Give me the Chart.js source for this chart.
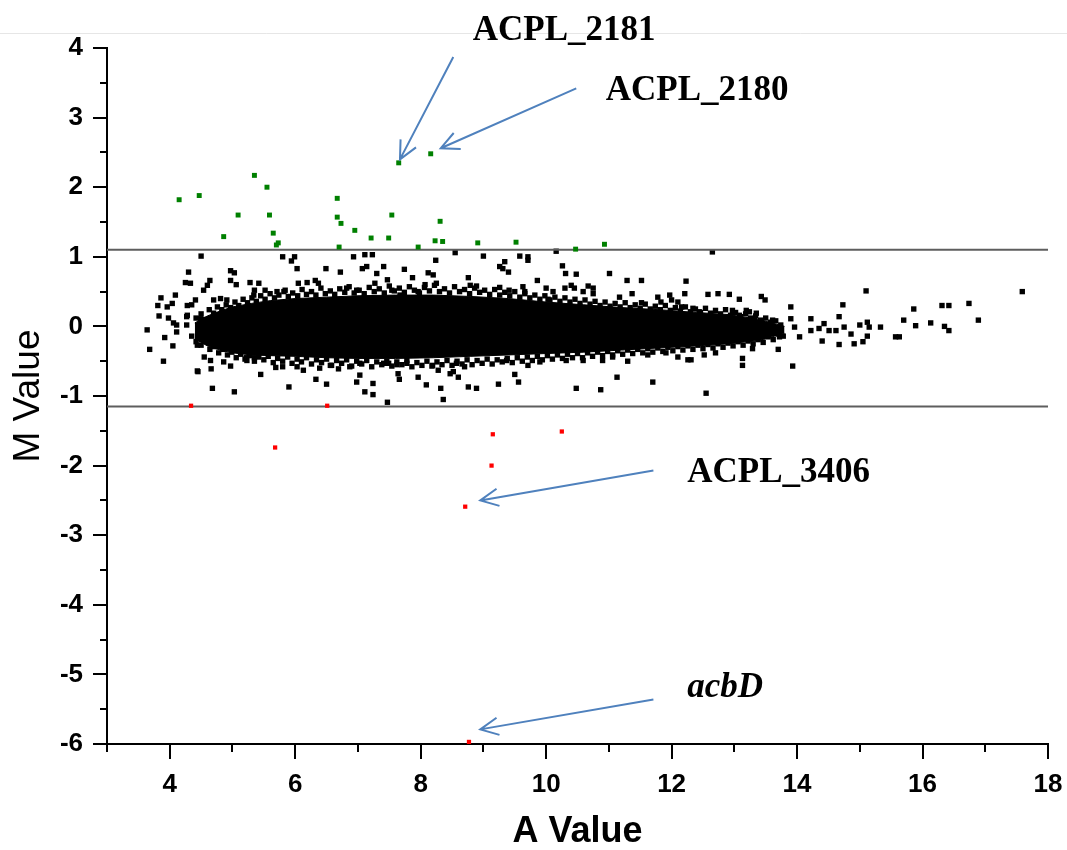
<!DOCTYPE html>
<html>
<head>
<meta charset="utf-8">
<script src="https://cdn.jsdelivr.net/npm/chart.js"></script>
<style>
  body { margin: 0; background: #fff; }
  #wrap { width: 1067px; height: 850px; }
</style>
</head>
<body>
<div id="wrap"><canvas id="maPlot" width="1067" height="850"></canvas></div>
<script>
// axis ranges / cut-offs
const aRange = [3, 18]
const mRange = [-6, 4]
const cutUp = 1.1
const cutDown = -1.15

// up-regulated genes (green) [A, M]
const upGenes = [
  [4.15, 1.82], [4.47, 1.88], [5.35, 2.17], [5.55, 2.00], [5.09, 1.60], [5.59, 1.60],
  [4.86, 1.29], [5.65, 1.34], [5.70, 1.17], [5.73, 1.20], [6.67, 1.84], [6.67, 1.57],
  [6.73, 1.48], [6.95, 1.38], [6.70, 1.14], [7.21, 1.27], [7.49, 1.27], [7.54, 1.60],
  [7.96, 1.14], [7.65, 2.35], [8.16, 2.48], [8.31, 1.51], [8.23, 1.23], [8.35, 1.22],
  [8.91, 1.20], [9.52, 1.21], [10.47, 1.11], [10.93, 1.18]
]

// down-regulated genes (red)
const downGenes = [
  [4.34, -1.14], [6.51, -1.14], [5.68, -1.74], [9.15, -1.55], [10.25, -1.51],
  [9.13, -2.00], [8.71, -2.59], [8.77, -5.97]
]

// dense core of the cloud: envelope
const coreA = [4.40, 4.6, 4.8, 5.0, 5.3, 5.6, 6.0, 6.5, 7.0, 7.6, 8.2, 8.8, 9.4, 10.0, 10.6, 11.2, 11.8, 12.4, 12.9, 13.4, 13.8]
const coreUp = [0.05, 0.15, 0.22, 0.28, 0.33, 0.37, 0.40, 0.42, 0.44, 0.45, 0.45, 0.43, 0.40, 0.35, 0.31, 0.27, 0.24, 0.20, 0.17, 0.10, 0.00]
const coreLow = [-0.18, -0.28, -0.34, -0.38, -0.41, -0.42, -0.43, -0.45, -0.46, -0.46, -0.45, -0.43, -0.41, -0.39, -0.37, -0.34, -0.31, -0.28, -0.25, -0.20, -0.10]

// unchanged genes outside the solid core (black)
const otherGenes = [
  // above the core
  [4.50, 1.01], [5.80, 1.00], [5.99, 1.00], [5.94, 0.94], [6.03, 0.83], [6.93, 1.00], [7.11, 1.03], [7.23, 1.03],
  [7.14, 0.86], [6.49, 0.83], [6.72, 0.78], [7.41, 0.86], [7.30, 0.76], [7.07, 0.83], [7.74, 0.82], [8.24, 0.95],
  [8.55, 1.06], [8.12, 0.77], [8.20, 0.74], [8.25, 0.62], [7.87, 0.70], [7.47, 0.67], [7.27, 0.62],
  [4.30, 0.78], [4.25, 0.63], [4.33, 0.62], [4.64, 0.66], [4.60, 0.59], [4.54, 0.52], [4.97, 0.80], [5.03, 0.77],
  [4.97, 0.66], [5.06, 0.60], [5.28, 0.63], [5.42, 0.62], [5.52, 0.52], [5.35, 0.52], [5.34, 0.45], [6.05, 0.62],
  [6.19, 0.63], [6.32, 0.66], [6.37, 0.62], [5.71, 0.50], [5.84, 0.52], [6.82, 0.55], [6.98, 0.52], [7.54, 0.52],
  [7.67, 0.45], [7.96, 0.50], [8.07, 0.60],
  // left end
  [3.86, 0.41], [4.09, 0.45], [4.04, 0.33], [3.96, 0.28], [3.81, 0.30], [3.83, 0.15], [3.98, 0.12], [3.64, -0.05],
  [4.11, 0.02], [4.11, -0.08], [3.92, -0.16], [4.05, -0.28], [3.68, -0.33], [3.90, -0.50], [4.27, 0.02], [4.27, 0.14],
  [4.41, 0.38], [4.35, 0.31], [4.70, 0.38], [4.81, 0.40], [4.91, 0.38], [4.49, 0.11], [4.46, -0.01], [4.35, -0.14],
  [4.44, -0.27], [4.28, 0.16], [4.28, 0.30], [4.06, 0.05],
  // below the core
  [4.45, -0.65], [4.66, -0.61], [4.68, -0.89], [5.03, -0.94], [4.55, -0.44], [4.65, -0.49], [4.86, -0.51], [4.97, -0.57],
  [5.22, -0.45], [5.35, -0.45], [5.45, -0.69], [5.69, -0.59], [5.80, -0.58], [5.90, -0.87], [6.03, -0.58], [6.13, -0.63],
  [6.33, -0.76], [6.50, -0.83], [6.39, -0.60], [6.56, -0.56], [6.69, -0.61], [6.87, -0.58], [7.03, -0.53], [6.98, -0.80],
  [7.03, -0.70], [7.11, -0.94], [7.24, -0.98], [7.24, -0.82], [7.47, -1.09], [7.64, -0.68], [7.66, -0.76], [7.96, -0.73],
  [8.09, -0.84], [8.19, -0.56], [8.28, -0.63], [8.32, -0.89], [8.36, -1.05], [8.52, -0.65], [8.60, -0.73], [7.41, -0.53],
  [7.49, -0.53], [7.62, -0.55], [7.78, -0.53], [4.44, -0.64], [5.23, -0.49],
  // middle / right, above
  [9.00, 1.01], [9.58, 1.01], [9.71, 1.00], [9.71, 0.95], [10.16, 1.08], [12.65, 1.07], [9.34, 0.93], [9.26, 0.86],
  [9.31, 0.83], [9.40, 0.78], [10.26, 0.87], [10.31, 0.76], [10.48, 0.75], [11.01, 0.76], [11.29, 0.66], [11.52, 0.66],
  [12.23, 0.65], [9.86, 0.66], [8.76, 0.70], [8.79, 0.59], [8.89, 0.58], [9.26, 0.56], [9.41, 0.52], [9.63, 0.57],
  [9.66, 0.50], [10.00, 0.55], [10.11, 0.50], [10.03, 0.39], [10.30, 0.55], [10.40, 0.59], [10.45, 0.55], [10.59, 0.50],
  [10.67, 0.58], [10.75, 0.55], [10.75, 0.47], [11.17, 0.42], [11.37, 0.47], [11.52, 0.34], [11.78, 0.42], [11.83, 0.35],
  [11.97, 0.45], [12.00, 0.38], [12.10, 0.35], [12.21, 0.47], [12.16, 0.28], [12.58, 0.46], [12.74, 0.47], [12.92, 0.46],
  [13.08, 0.39], [13.43, 0.43], [13.49, 0.38], [12.34, 0.26], [12.44, 0.21], [12.55, 0.14], [12.97, 0.23], [13.08, 0.16],
  [13.24, 0.21], [13.32, 0.11],
  // middle / right, below
  [8.47, -0.68], [8.76, -0.87], [8.89, -0.89], [8.70, -0.58], [8.57, -0.53], [9.24, -0.83], [9.50, -0.69], [9.56, -0.80],
  [9.37, -0.49], [9.71, -0.56], [9.90, -0.51], [10.48, -0.89], [10.87, -0.91], [11.13, -0.73], [11.30, -0.50], [11.70, -0.80],
  [11.62, -0.41], [11.91, -0.38], [12.10, -0.44], [12.26, -0.48], [12.31, -0.48], [12.52, -0.41], [12.70, -0.38], [12.55, -0.96],
  [13.13, -0.46], [13.13, -0.56], [13.29, -0.32], [10.32, -0.49], [10.59, -0.49], [10.90, -0.49], [11.06, -0.44],
  // tail
  [13.19, 0.23], [13.24, 0.09], [13.35, 0.19], [13.40, 0.04], [13.32, -0.06], [13.19, -0.15], [13.45, -0.15], [13.56, -0.06],
  [13.66, -0.10], [13.72, -0.15], [13.58, 0.04], [13.93, -0.57], [13.70, -0.33], [13.90, 0.28], [13.90, 0.11], [13.96, -0.01],
  [14.04, -0.15], [13.74, -0.03], [13.61, 0.09], [14.67, 0.14], [14.75, -0.01], [14.62, -0.06], [14.51, -0.06], [14.43, 0.04],
  [14.35, -0.03], [14.22, 0.11], [14.22, -0.06], [14.40, -0.21], [14.67, -0.26], [14.86, -0.11], [14.91, -0.25], [15.05, -0.22],
  [15.12, -0.14], [15.15, -0.01], [15.12, 0.06], [15.00, 0.02], [15.63, -0.15], [15.57, -0.15], [15.33, -0.01], [16.89, 0.09],
  [16.42, -0.06], [16.35, 0.00], [16.13, 0.05], [15.89, 0.01], [15.70, 0.09], [16.74, 0.33], [16.42, 0.30], [16.31, 0.30],
  [15.86, 0.25], [14.73, 0.31], [17.59, 0.50], [15.10, 0.51]
]

// points crowding the upper and lower rim of the core
const rimGenes = [
  [4.42, 0.12], [4.50, 0.18], [4.57, 0.10], [4.63, 0.24], [4.70, 0.19], [4.76, 0.28], [4.83, 0.24], [4.90, 0.31],
  [4.97, 0.27], [5.04, 0.35], [5.10, 0.30], [5.17, 0.39], [5.24, 0.34], [5.31, 0.41], [5.38, 0.36], [5.45, 0.44],
  [5.52, 0.39], [5.60, 0.47], [5.67, 0.41], [5.74, 0.45], [5.82, 0.50], [5.89, 0.43], [5.96, 0.48], [6.04, 0.44],
  [6.11, 0.53], [6.18, 0.46], [6.26, 0.50], [6.33, 0.45], [6.41, 0.55], [6.48, 0.47], [6.56, 0.51], [6.63, 0.46],
  [6.71, 0.54], [6.79, 0.49], [6.86, 0.57], [6.94, 0.48], [7.02, 0.52], [7.10, 0.47], [7.18, 0.56], [7.26, 0.50],
  [7.34, 0.54], [7.42, 0.48], [7.50, 0.58], [7.58, 0.51], [7.66, 0.55], [7.74, 0.49], [7.82, 0.57], [7.90, 0.52],
  [7.98, 0.48], [8.06, 0.56], [8.14, 0.51], [8.22, 0.59], [8.30, 0.50], [8.38, 0.54], [8.46, 0.48], [8.54, 0.57],
  [8.62, 0.50], [8.70, 0.53], [8.78, 0.47], [8.86, 0.55], [8.94, 0.49], [9.02, 0.52], [9.10, 0.46], [9.18, 0.53],
  [9.26, 0.45], [9.34, 0.49], [9.42, 0.44], [9.50, 0.50], [9.58, 0.42], [9.66, 0.47], [9.74, 0.41], [9.82, 0.45],
  [9.90, 0.39], [9.98, 0.44], [10.06, 0.38], [10.14, 0.42], [10.22, 0.36], [10.30, 0.41], [10.38, 0.35], [10.46, 0.39],
  [10.54, 0.33], [10.62, 0.38], [10.70, 0.32], [10.78, 0.36], [10.86, 0.30], [10.94, 0.35], [11.02, 0.29], [11.10, 0.33],
  [11.18, 0.28], [11.26, 0.34], [11.34, 0.27], [11.42, 0.31], [11.50, 0.26], [11.58, 0.32], [11.66, 0.25], [11.74, 0.29],
  [11.82, 0.24], [11.90, 0.30], [11.98, 0.23], [12.06, 0.27], [12.14, 0.22], [12.22, 0.28], [12.30, 0.21], [12.38, 0.25],
  [12.46, 0.20], [12.54, 0.26], [12.62, 0.19], [12.70, 0.23], [12.78, 0.18], [12.86, 0.24], [12.94, 0.16], [13.02, 0.20],
  [13.10, 0.14], [13.18, 0.18], [13.26, 0.12], [13.34, 0.15], [13.42, 0.09], [13.50, 0.12], [13.58, 0.06], [13.66, 0.08],
  [13.74, 0.02],
  [4.42, -0.22], [4.50, -0.27], [4.57, -0.21], [4.64, -0.33], [4.71, -0.29], [4.78, -0.38], [4.85, -0.33], [4.92, -0.41],
  [4.99, -0.37], [5.06, -0.45], [5.13, -0.40], [5.20, -0.47], [5.27, -0.42], [5.35, -0.50], [5.42, -0.44], [5.50, -0.48],
  [5.57, -0.43], [5.65, -0.52], [5.72, -0.46], [5.80, -0.50], [5.88, -0.44], [5.95, -0.53], [6.03, -0.47], [6.10, -0.51],
  [6.18, -0.45], [6.26, -0.54], [6.34, -0.48], [6.42, -0.52], [6.50, -0.47], [6.58, -0.56], [6.66, -0.49], [6.74, -0.53],
  [6.82, -0.48], [6.90, -0.57], [6.98, -0.50], [7.06, -0.54], [7.14, -0.49], [7.22, -0.58], [7.30, -0.51], [7.38, -0.55],
  [7.46, -0.50], [7.54, -0.57], [7.62, -0.51], [7.70, -0.55], [7.78, -0.49], [7.86, -0.58], [7.94, -0.52], [8.02, -0.56],
  [8.10, -0.50], [8.18, -0.57], [8.26, -0.51], [8.34, -0.55], [8.42, -0.49], [8.50, -0.56], [8.58, -0.50], [8.66, -0.54],
  [8.74, -0.48], [8.82, -0.55], [8.90, -0.49], [8.98, -0.53], [9.06, -0.47], [9.14, -0.54], [9.22, -0.48], [9.30, -0.51],
  [9.38, -0.46], [9.46, -0.52], [9.54, -0.45], [9.62, -0.50], [9.70, -0.44], [9.78, -0.49], [9.86, -0.43], [9.94, -0.48],
  [10.02, -0.42], [10.10, -0.47], [10.18, -0.41], [10.26, -0.46], [10.34, -0.40], [10.42, -0.45], [10.50, -0.39], [10.58, -0.45],
  [10.66, -0.38], [10.74, -0.43], [10.82, -0.37], [10.90, -0.42], [10.98, -0.36], [11.06, -0.41], [11.14, -0.35], [11.22, -0.40],
  [11.30, -0.34], [11.38, -0.39], [11.46, -0.33], [11.54, -0.38], [11.62, -0.32], [11.70, -0.37], [11.78, -0.31], [11.86, -0.36],
  [11.94, -0.30], [12.02, -0.35], [12.10, -0.29], [12.18, -0.34], [12.26, -0.28], [12.34, -0.33], [12.42, -0.27], [12.50, -0.32],
  [12.58, -0.26], [12.66, -0.31], [12.74, -0.25], [12.82, -0.30], [12.90, -0.24], [12.98, -0.28], [13.06, -0.22], [13.14, -0.27],
  [13.22, -0.21], [13.30, -0.25], [13.38, -0.19], [13.46, -0.23], [13.54, -0.15], [13.62, -0.19], [13.70, -0.11], [13.78, -0.14]
]

// gene labels + arrows (data coordinates)
const geneLabels = [
  { text: 'ACPL_2181', a: 8.83, m: 4.12, italic: false },
  { text: 'ACPL_2180', a: 10.95, m: 3.26, italic: false },
  { text: 'ACPL_3406', a: 12.25, m: -2.24, italic: false },
  { text: 'acbD', a: 12.25, m: -5.32, italic: true }
]
const arrowLines = [
  [8.52, 3.87, 7.67, 2.40],
  [10.48, 3.42, 8.32, 2.56],
  [11.71, -2.07, 8.95, -2.50],
  [11.71, -5.36, 8.95, -5.79]
]

const toXY = arr => arr.map(p => ({ x: p[0], y: p[1] }))

const decorPlugin = {
  id: 'decor',
  beforeDraw(chart) {
    const ctx = chart.ctx
    ctx.save()
    ctx.fillStyle = '#fff'
    ctx.fillRect(0, 0, chart.width, chart.height)
    ctx.strokeStyle = '#e6e6e6'
    ctx.lineWidth = 1
    ctx.beginPath()
    ctx.moveTo(0, 33.5)
    ctx.lineTo(chart.width, 33.5)
    ctx.stroke()
    ctx.restore()
  },
  afterDraw(chart) {
    const ctx = chart.ctx
    const xs = chart.scales.x, ys = chart.scales.y
    ctx.save()
    // tick marks, long for labelled ticks
    ctx.strokeStyle = '#000'
    ctx.lineWidth = 2
    ys.ticks.forEach(t => {
      const py = Math.round(ys.getPixelForValue(t.value))
      const len = Number.isInteger(t.value) ? 14 : 7
      ctx.beginPath()
      ctx.moveTo(ys.right - len, py)
      ctx.lineTo(ys.right, py)
      ctx.stroke()
    })
    xs.ticks.forEach(t => {
      const px = Math.round(xs.getPixelForValue(t.value))
      const len = t.value % 2 === 0 ? 15 : 8
      ctx.beginPath()
      ctx.moveTo(px, xs.top)
      ctx.lineTo(px, xs.top + len)
      ctx.stroke()
    })
    // arrows
    ctx.strokeStyle = '#4f81bd'
    ctx.lineWidth = 2
    arrowLines.forEach(l => {
      const x0 = xs.getPixelForValue(l[0]), y0 = ys.getPixelForValue(l[1])
      const x1 = xs.getPixelForValue(l[2]), y1 = ys.getPixelForValue(l[3])
      const ang = Math.atan2(y0 - y1, x0 - x1)
      ctx.beginPath()
      ctx.moveTo(x0, y0)
      ctx.lineTo(x1, y1)
      ctx.moveTo(x1 + 20 * Math.cos(ang - 0.45), y1 + 20 * Math.sin(ang - 0.45))
      ctx.lineTo(x1, y1)
      ctx.lineTo(x1 + 20 * Math.cos(ang + 0.45), y1 + 20 * Math.sin(ang + 0.45))
      ctx.stroke()
    })
    // labels
    ctx.fillStyle = '#000'
    ctx.textBaseline = 'alphabetic'
    geneLabels.forEach(g => {
      ctx.font = (g.italic ? 'italic ' : '') + 'bold 35px "Liberation Serif", "Times New Roman", serif'
      ctx.fillText(g.text, xs.getPixelForValue(g.a), ys.getPixelForValue(g.m))
    })
    ctx.restore()
  }
}

const tickFont = { family: '"Liberation Sans", Arial, sans-serif', size: 26, weight: 'bold' }

new Chart(document.getElementById('maPlot'), {
  type: 'scatter',
  data: {
    datasets: [
      {
        label: 'core low',
        type: 'line',
        data: coreA.map((a, i) => ({ x: a, y: coreLow[i] })),
        borderColor: '#000', borderWidth: 1, pointRadius: 0, fill: false, order: 6
      },
      {
        label: 'core up',
        type: 'line',
        data: coreA.map((a, i) => ({ x: a, y: coreUp[i] })),
        borderColor: '#000', borderWidth: 1, pointRadius: 0,
        fill: '-1', backgroundColor: '#000', order: 5
      },
      {
        label: 'other',
        data: toXY(otherGenes.concat(rimGenes)),
        pointStyle: 'rect', pointRadius: 3.8, backgroundColor: '#000', borderWidth: 0, order: 4
      },
      {
        label: 'cut up',
        type: 'line',
        data: [{ x: aRange[0], y: cutUp }, { x: aRange[1], y: cutUp }],
        borderColor: '#5e5e5e', borderWidth: 2, pointRadius: 0, order: 3
      },
      {
        label: 'cut down',
        type: 'line',
        data: [{ x: aRange[0], y: cutDown }, { x: aRange[1], y: cutDown }],
        borderColor: '#5e5e5e', borderWidth: 2, pointRadius: 0, order: 3
      },
      {
        label: 'up',
        data: toXY(upGenes),
        pointStyle: 'rect', pointRadius: 3.5, backgroundColor: '#008000', borderWidth: 0, order: 1
      },
      {
        label: 'down',
        data: toXY(downGenes),
        pointStyle: 'rect', pointRadius: 3, backgroundColor: '#ff0000', borderWidth: 0, order: 1,
        clip: false
      }
    ]
  },
  options: {
    responsive: false,
    animation: false,
    devicePixelRatio: 1,
    layout: { padding: { top: 48, right: 19, left: 0, bottom: 0 } },
    plugins: { legend: { display: false }, tooltip: { enabled: false } },
    scales: {
      x: {
        type: 'linear',
        min: aRange[0], max: aRange[1],
        grid: { display: false },
        border: { display: true, color: '#000', width: 2, z: -1 },
        ticks: {
          stepSize: 1, autoSkip: false, maxRotation: 0, padding: 17,
          color: '#000', font: tickFont,
          callback: v => (v % 2 === 0 ? String(v) : '')
        },
        title: {
          display: true, text: 'A Value', color: '#000',
          font: { family: '"Liberation Sans", Arial, sans-serif', size: 36, weight: 'bold', lineHeight: 1 },
          padding: 0
        },
        afterFit: s => { s.height = 106; s.paddingLeft = 0; s.paddingRight = 0 }
      },
      y: {
        type: 'linear',
        min: mRange[0], max: mRange[1],
        grid: { display: false },
        border: { display: true, color: '#000', width: 2 },
        ticks: {
          stepSize: 0.5, autoSkip: false, padding: 16,
          color: '#000', font: tickFont,
          callback: v => (Number.isInteger(v) ? String(v) : '')
        },
        title: {
          display: true, text: 'M Value', color: '#000',
          font: { family: '"Liberation Sans", Arial, sans-serif', size: 37, weight: 'normal', lineHeight: 1 },
          padding: { top: 10, bottom: 0 }
        },
        afterFit: s => { s.width = 107; s.paddingTop = 0; s.paddingBottom = 0 }
      }
    }
  },
  plugins: [decorPlugin]
})
</script>
</body>
</html>
